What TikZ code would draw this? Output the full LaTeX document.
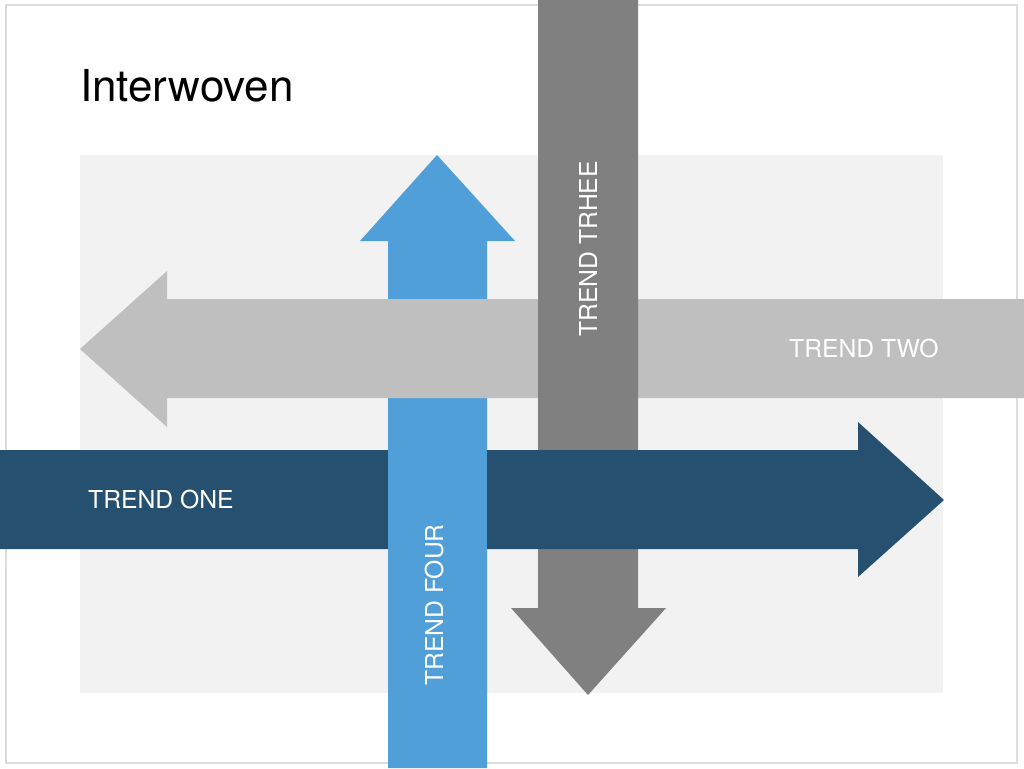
\documentclass[tikz,border=0pt]{standalone}
\usepackage{fontspec}
\setmainfont{TeX Gyre Heros}
\definecolor{frame}{HTML}{DCDCDC}
\definecolor{panel}{HTML}{F2F2F2}
\definecolor{tone}{HTML}{25506F}
\definecolor{ttwo}{HTML}{BFBFBF}
\definecolor{tthree}{HTML}{808080}
\definecolor{tfour}{HTML}{519FD8}
\tikzset{
  lbl/.style={text=white, inner sep=0pt, font=\fontsize{24.7}{25}\selectfont},
}
\begin{document}
\begin{tikzpicture}[x=1pt,y=-1pt]
\useasboundingbox (0,0) rectangle (1024,768);
\fill[white] (0,0) rectangle (1024,768);
\draw[frame, line width=2pt] (6,5) rectangle (1017,763);
\fill[panel] (80,155) rectangle (943,693);
\node[anchor=base west, inner sep=0pt, font=\fontsize{44}{44}\selectfont] (title) at (80,101) {Interwoven};
% trend four (up)
\fill[tfour] (388,768) -- (388,241) -- (360,241) -- (437,155) -- (515,241) -- (487,241) -- (487,768) -- cycle;
% trend two (left)
\fill[ttwo] (1024,299) -- (167,299) -- (167,271) -- (80,349) -- (167,427) -- (167,398) -- (1024,398) -- cycle;
% trend three (down)
\fill[tthree] (538,0) -- (538,608) -- (511,608) -- (588,695) -- (666,608) -- (638,608) -- (638,0) -- cycle;
% trend one (right)
\fill[tone] (0,450) -- (858,450) -- (858,422) -- (944,500) -- (858,577) -- (858,549) -- (0,549) -- cycle;
% trend four over trend one
\fill[tfour] (388,449) rectangle (487,550);
\node[lbl, anchor=west] (one) at (88,499) {TREND ONE};
\node[lbl, anchor=west] (two) at (789,348) {TREND TWO};
\node[lbl, rotate=90] (three) at (588,249) {TREND TRHEE};
\node[lbl, rotate=90] (four) at (434,605) {TREND FOUR};
\end{tikzpicture}
\end{document}
